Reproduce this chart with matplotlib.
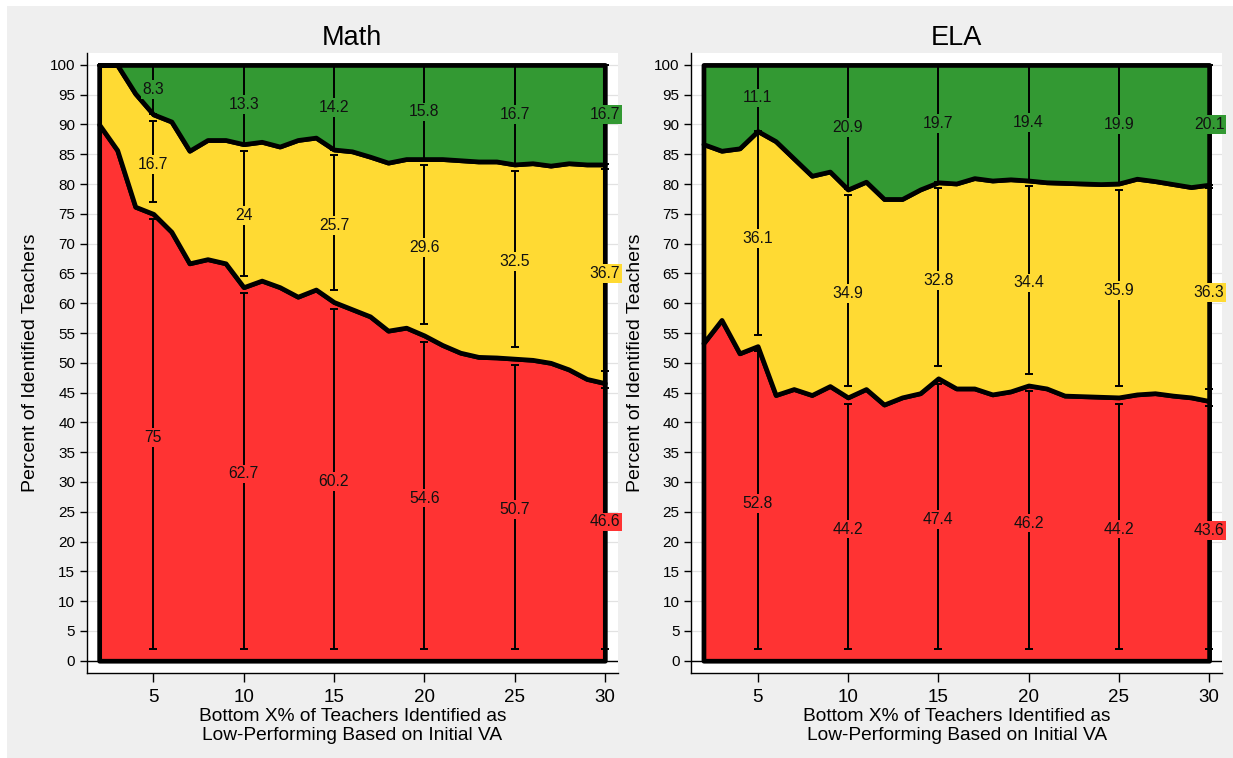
import matplotlib
matplotlib.use("Agg")
import matplotlib.pyplot as plt
from matplotlib.patches import Rectangle

plt.rcParams['font.family'] = ['Liberation Sans', 'DejaVu Sans']

# ---------------- data ----------------
x_pct = list(range(2, 31))

math_red = [90.0, 85.7, 76.2, 75.0, 72.0, 66.7, 67.4, 66.7, 62.7, 63.8,
            62.7, 61.1, 62.3, 60.2, 59.0, 57.8, 55.4, 55.9, 54.6, 53.0,
            51.7, 51.0, 50.9, 50.7, 50.5, 50.0, 48.9, 47.3, 46.6]
math_green = [0.0, 0.0, 4.8, 8.3, 9.5, 14.4, 12.6, 12.6, 13.3, 12.9,
              13.7, 12.6, 12.2, 14.2, 14.5, 15.4, 16.4, 15.8, 15.8, 15.8,
              16.0, 16.2, 16.2, 16.7, 16.5, 16.9, 16.5, 16.7, 16.7]

ela_red = [53.3, 57.2, 51.6, 52.8, 44.6, 45.6, 44.6, 46.1, 44.2, 45.6,
           43.0, 44.2, 44.9, 47.4, 45.7, 45.7, 44.7, 45.2, 46.2, 45.7,
           44.5, 44.4, 44.3, 44.2, 44.7, 44.9, 44.5, 44.2, 43.6]
ela_green = [13.3, 14.4, 14.0, 11.1, 12.8, 15.7, 18.6, 17.9, 20.9, 19.6,
             22.5, 22.5, 20.9, 19.7, 19.9, 19.0, 19.4, 19.2, 19.4, 19.7,
             19.8, 19.9, 20.0, 19.9, 19.1, 19.5, 20.0, 20.5, 20.1]

label_x = [5, 10, 15, 20, 25, 30]
math_red_lbl = [75, 62.7, 60.2, 54.6, 50.7, 46.6]
math_yellow_lbl = [16.7, 24, 25.7, 29.6, 32.5, 36.7]
math_green_lbl = [8.3, 13.3, 14.2, 15.8, 16.7, 16.7]
ela_red_lbl = [52.8, 44.2, 47.4, 46.2, 44.2, 43.6]
ela_yellow_lbl = [36.1, 34.9, 32.8, 34.4, 35.9, 36.3]
ela_green_lbl = [11.1, 20.9, 19.7, 19.4, 19.9, 20.1]

# confidence intervals (cumulative scale) at label_x
math_red_ci_lo = [2, 2, 2, 2, 2, 2]
math_red_ci_hi = [74.2, 61.7, 59.1, 53.5, 49.7, 45.7]
math_yel_ci_lo = [77.0, 64.6, 62.2, 56.5, 52.7, 48.7]
math_yel_ci_hi = [90.6, 85.6, 84.9, 83.2, 82.2, 82.6]
math_grn_ci_lo = [91.7, 86.7, 85.8, 84.2, 83.3, 83.3]
math_grn_ci_hi = [100, 100, 100, 100, 100, 100]

ela_red_ci_lo = [2, 2, 2, 2, 2, 2]
ela_red_ci_hi = [52.0, 43.1, 46.5, 45.2, 43.1, 42.7]
ela_yel_ci_lo = [54.7, 46.1, 49.4, 48.1, 46.1, 45.6]
ela_yel_ci_hi = [88.5, 78.1, 79.3, 79.6, 79.0, 79.3]
ela_grn_ci_lo = [88.9, 79.1, 80.3, 80.6, 80.1, 79.9]
ela_grn_ci_hi = [100, 100, 100, 100, 100, 100]

titles = ["Math", "ELA"]
xlabel = "Bottom X% of Teachers Identified as\nLow-Performing Based on Initial VA"
ylabel = "Percent of Identified Teachers"

RED = "#FF3333"
YEL = "#FFDA33"
GRN = "#339933"
BG = "#EFEFEF"

W, H = 1233, 758
fig = plt.figure(figsize=(W / 100, H / 100), dpi=100)
fig.patch.set_facecolor("white")
fig.add_artist(Rectangle((7 / W, 0), 1 - 7 / W, 1 - 6 / H, transform=fig.transFigure,
                         facecolor=BG, edgecolor="none", zorder=-10))

panels = [
    dict(left=86.7, red=math_red, green=math_green,
         lr=math_red_lbl, ly=math_yellow_lbl, lg=math_green_lbl,
         ci=[(math_red_ci_lo, math_red_ci_hi), (math_yel_ci_lo, math_yel_ci_hi),
             (math_grn_ci_lo, math_grn_ci_hi)]),
    dict(left=691.0, red=ela_red, green=ela_green,
         lr=ela_red_lbl, ly=ela_yellow_lbl, lg=ela_green_lbl,
         ci=[(ela_red_ci_lo, ela_red_ci_hi), (ela_yel_ci_lo, ela_yel_ci_hi),
             (ela_grn_ci_lo, ela_grn_ci_hi)]),
]

ax_w = 531.3
ax_top, ax_bot = 53.3, 673.0

for p, title in zip(panels, titles):
    ax = fig.add_axes([p["left"] / W, 1 - ax_bot / H, ax_w / W, (ax_bot - ax_top) / H])
    ax.set_facecolor("white")
    red = p["red"]
    top = [100 - g for g in p["green"]]
    ones = [100] * len(x_pct)

    lw = 3.4
    ax.fill_between(x_pct, 0, red, facecolor=RED, edgecolor="black", linewidth=lw,
                    joinstyle="round", zorder=2)
    ax.fill_between(x_pct, red, top, facecolor=YEL, edgecolor="black", linewidth=lw,
                    joinstyle="round", zorder=2)
    ax.fill_between(x_pct, top, ones, facecolor=GRN, edgecolor="black", linewidth=lw,
                    joinstyle="round", zorder=2)

    ax.axhline(0, color="black", linewidth=1.0, zorder=1)

    for lo, hi in p["ci"]:
        mid = [(a + b) / 2 for a, b in zip(lo, hi)]
        err = [(b - a) / 2 for a, b in zip(lo, hi)]
        ax.errorbar(label_x, mid, yerr=err, fmt="none", ecolor="black",
                    elinewidth=1.4, capsize=3.2, capthick=1.4, zorder=3, clip_on=False)

    for i, xv in enumerate(label_x):
        r, yv, g = p["lr"][i], p["ly"][i], p["lg"][i]
        for val, ypos, col in [(r, r / 2, RED), (yv, r + yv / 2, YEL), (g, 100 - g / 2, GRN)]:
            ax.text(xv, ypos, f"{val:g}", ha="center", va="center", fontsize=11.3,
                    color="#111111", zorder=5, clip_on=False,
                    bbox=dict(boxstyle="square,pad=0.12", facecolor=col, edgecolor="none"))

    ax.set_xlim(1.31, 30.73)
    ax.set_ylim(-2.06, 101.95)
    ax.set_yticks(range(0, 101, 5))
    ax.set_xticks(label_x)
    ax.yaxis.grid(True, color="#E2E2E2", linewidth=0.9, zorder=0)
    ax.set_axisbelow(True)
    for s in ["top", "right"]:
        ax.spines[s].set_visible(False)
    for s in ["left", "bottom"]:
        ax.spines[s].set_color("black")
        ax.spines[s].set_linewidth(1.0)
    ax.tick_params(axis="y", direction="out", length=5, width=1, labelsize=11, pad=3.2)
    ax.tick_params(axis="x", direction="out", length=6.5, width=1, labelsize=13.5, pad=5)

    ax.set_title(title, fontsize=19.5, pad=6)
    ax.set_xlabel(xlabel, fontsize=13.8, linespacing=1.1, va="top")
    ax.xaxis.set_label_coords(0.5, -0.057)
    ax.set_ylabel(ylabel, fontsize=14, va="center")
    ax.yaxis.set_label_coords(-0.105, 0.5)

fig.savefig("out.png", dpi=100, facecolor=fig.get_facecolor())
